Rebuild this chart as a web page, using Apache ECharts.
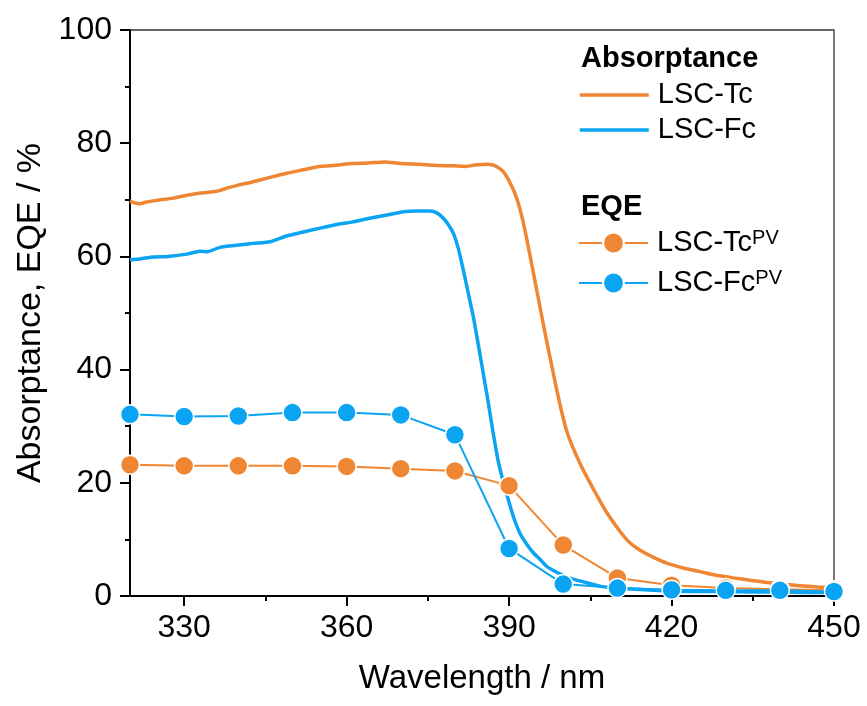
<!DOCTYPE html>
<html>
<head>
<meta charset="utf-8">
<script src="https://cdn.jsdelivr.net/npm/echarts@6/dist/echarts.min.js"></script>
<style>
html,body{margin:0;padding:0;background:#fff;}
#chart{width:867px;height:706px;}
</style>
</head>
<body>
<div id="chart"></div>
<script>
// ---- data ----
const absTcWl = [320,321.8,323,325,328,330.5,333,336,338,340,342.8,346,349,352,355,358,361,364,367,370,373.6,376,379.7,382,384,386,387.5,389,390.5,391.5,392.5,393.3,394.2,395.1,396,396.9,397.9,398.8,399.7,400.6,401.8,403.1,404.6,406.2,408,410.5,412.3,414.2,416.5,419.1,422,425.3,428,431.4,434.5,437.6,440.5,443.7,447,450];
const absTcVal = [69.7,69.3,69.6,69.9,70.3,70.8,71.2,71.5,72.1,72.6,73.2,74.0,74.7,75.3,75.9,76.1,76.4,76.5,76.7,76.4,76.3,76.1,76.0,75.9,76.2,76.3,76.0,74.9,72.4,70.0,66.5,62.9,58.5,54.1,49.6,45.2,40.6,36.4,32.6,29.3,26.2,23.4,20.6,17.8,14.8,11.4,9.4,8.1,6.9,5.8,5.0,4.3,3.7,3.2,2.8,2.4,2.1,1.8,1.6,1.5];
const absFcWl = [320,322,324.3,327,330.5,332.9,334.2,336.6,340,342.8,345.9,348.9,352,355.1,358,361.2,364,367.4,370.5,373,375.4,376.8,377.9,378.8,379.7,380.6,381.5,382.4,383.4,384.3,385.2,386.1,387.1,388,388.9,389.8,390.8,392,393.3,394.5,395.7,397,398.8,400.6,402.5,404.9,407,410,415,420,425,430,435,440,445,450];
const absFcVal = [59.4,59.6,59.9,60.0,60.4,60.9,60.8,61.6,62.0,62.3,62.6,63.6,64.3,65.0,65.6,66.1,66.7,67.3,67.9,68.0,68.0,67.6,66.7,65.6,64.1,61.5,57.8,53.8,49.3,44.5,39.5,34.5,28.6,23.8,20.3,17.2,14.0,11.1,9.1,7.6,6.5,5.2,4.2,3.4,2.8,2.2,1.7,1.4,1.1,0.9,0.8,0.8,0.7,0.7,0.6,0.6];
const eqeWl  = [320,330,340,350,360,370,380,390,400,410,420,430,440,450];
const eqeTc  = [23.2,23.0,23.0,23.0,22.9,22.5,22.1,19.5,9.0,3.2,1.9,1.4,1.2,1.0];
const eqeFc  = [32.1,31.7,31.8,32.4,32.4,32.0,28.5,8.4,2.1,1.4,1.1,1.0,1.0,0.8];
const xMajorTicks = [330,360,390,420,450];
const xMinorTicks = [345,375,405,435];
const seriesNames = ['LSC-Tc','LSC-Fc','LSC-TcPV','LSC-FcPV'];
const groupTitles = ['Absorptance','EQE'];

const zip = (a,b) => a.map((v,i) => [v,b[i]]);
const ORANGE = '#EF8633', BLUE = '#0AA4F2';
const FONT = "'Liberation Sans', Arial, sans-serif";

const chart = echarts.init(document.getElementById('chart'), null, {renderer:'canvas'});
chart.setOption({
  animation:false,
  textStyle:{fontFamily:FONT},
  grid:{left:130,right:33,top:30,bottom:110,show:true,borderColor:'#333',borderWidth:1.3,containLabel:false},
  xAxis:[{
    type:'value',min:320,max:450,
    name:'Wavelength / nm',nameLocation:'middle',nameGap:66,
    nameTextStyle:{fontSize:33,color:'#000',fontFamily:FONT},
    axisLine:{show:true,lineStyle:{color:'#000',width:2}},
    axisTick:{show:true,inside:false,length:10,lineStyle:{color:'#000',width:2},customValues:xMajorTicks},
    axisLabel:{fontSize:32,color:'#000',margin:16,fontFamily:FONT,customValues:xMajorTicks},
    splitLine:{show:false}
  },{
    type:'value',min:320,max:450,position:'bottom',
    axisLine:{show:false},
    axisTick:{show:true,inside:false,length:5,lineStyle:{color:'#000',width:2},customValues:xMinorTicks},
    axisLabel:{show:false},
    splitLine:{show:false}
  }],
  yAxis:{
    type:'value',min:0,max:100,interval:20,
    name:'Absorptance, EQE / %',nameLocation:'middle',nameGap:80,
    nameTextStyle:{fontSize:34,color:'#000',fontFamily:FONT},
    axisLine:{show:true,lineStyle:{color:'#000',width:2}},
    axisTick:{show:true,inside:false,length:10,lineStyle:{color:'#000',width:2}},
    minorTick:{show:true,splitNumber:2,length:5,lineStyle:{color:'#000',width:2}},
    axisLabel:{fontSize:32,color:'#000',margin:18,fontFamily:FONT},
    splitLine:{show:false},minorSplitLine:{show:false}
  },
  legend:[{
    data:[seriesNames[0],seriesNames[1]],
    orient:'vertical',left:578,top:80,padding:0,
    itemWidth:69,itemHeight:20,itemGap:5,
    itemStyle:{opacity:0},
    lineStyle:{width:3.5},
    textStyle:{fontSize:29,color:'#000',lineHeight:30,padding:[0,0,0,4],fontFamily:FONT}
  },{
    data:[seriesNames[2],seriesNames[3]],
    orient:'vertical',left:578,top:228,padding:0,
    itemWidth:69,itemHeight:26,itemGap:10,
    formatter: n => n.replace('PV','{sup|PV}'),
    textStyle:{fontSize:29,color:'#000',lineHeight:30,padding:[0,0,0,4],fontFamily:FONT,
      rich:{sup:{fontSize:20,lineHeight:18,verticalAlign:'top',color:'#000',fontFamily:FONT}}}
  }],
  graphic:[
    {type:'text',left:581,top:44,style:{text:groupTitles[0],font:"bold 29px 'Liberation Sans', Arial, sans-serif",fill:'#000'}},
    {type:'text',left:581,top:192,style:{text:groupTitles[1],font:"bold 29px 'Liberation Sans', Arial, sans-serif",fill:'#000'}}
  ],
  series:[
    {name:seriesNames[0],type:'line',data:zip(absTcWl,absTcVal),showSymbol:false,symbol:'none',smooth:0.2,
      lineStyle:{color:ORANGE,width:3.5},itemStyle:{color:ORANGE},z:2},
    {name:seriesNames[1],type:'line',data:zip(absFcWl,absFcVal),showSymbol:false,symbol:'none',smooth:0.2,
      lineStyle:{color:BLUE,width:3.5},itemStyle:{color:BLUE},z:2},
    {name:seriesNames[2],type:'line',data:zip(eqeWl,eqeTc),symbol:'circle',symbolSize:19,
      lineStyle:{color:ORANGE,width:2},itemStyle:{color:ORANGE,borderColor:'#fff',borderWidth:1.5},z:3},
    {name:seriesNames[3],type:'line',data:zip(eqeWl,eqeFc),symbol:'circle',symbolSize:19,
      lineStyle:{color:BLUE,width:2},itemStyle:{color:BLUE,borderColor:'#fff',borderWidth:1.5},z:4}
  ]
});
</script>
</body>
</html>
